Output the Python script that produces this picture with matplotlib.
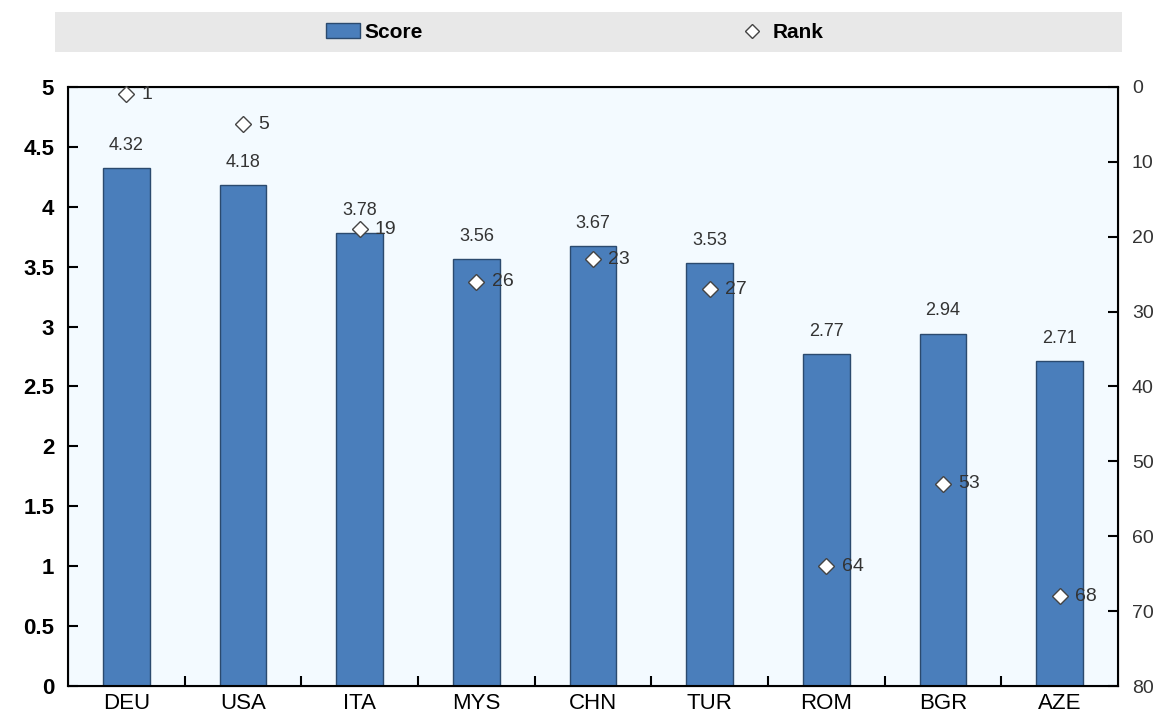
import numpy as np
import matplotlib.pyplot as plt
from matplotlib.patches import Rectangle, Patch
from matplotlib.lines import Line2D

countries = ['DEU', 'USA', 'ITA', 'MYS', 'CHN', 'TUR', 'ROM', 'BGR', 'AZE']
score = [4.32, 4.18, 3.78, 3.56, 3.67, 3.53, 2.77, 2.94, 2.71]
rank = [1, 5, 19, 26, 23, 27, 64, 53, 68]

plt.rcParams['font.family'] = ['Liberation Sans Narrow', 'Liberation Sans', 'DejaVu Sans']

fig = plt.figure(figsize=(11.59, 7.2), dpi=100)
ax1 = fig.add_axes([0.0587, 0.0472, 0.906, 0.832])
ax1.set_facecolor('#f3faff')

x = np.arange(len(countries))
ax1.bar(x, score, width=0.4, color='#4a7ebb', edgecolor='#2b4a6e', linewidth=1, zorder=2)
for xi, s in zip(x, score):
    ax1.text(xi, s + 0.12, f'{s:.2f}', ha='center', va='bottom', fontsize=13,
             color='#333333', zorder=4)

ax1.set_xlim(-0.5, len(countries) - 0.5)
ax1.set_ylim(0, 5)
ax1.set_yticks([0, 0.5, 1, 1.5, 2, 2.5, 3, 3.5, 4, 4.5, 5])
ax1.set_yticklabels(['0', '0.5', '1', '1.5', '2', '2.5', '3', '3.5', '4', '4.5', '5'],
                    fontsize=16, fontweight='bold')
ax1.set_xticks(x)
ax1.set_xticklabels(countries, fontsize=16)
ax1.tick_params(axis='x', length=0, pad=5)
ax1.set_xticks(x[:-1] + 0.5, minor=True)
ax1.tick_params(axis='x', which='minor', direction='in', length=7, width=1.5)
ax1.tick_params(axis='y', direction='in', length=7, width=1.5, pad=10)
for sp in ax1.spines.values():
    sp.set_linewidth(1.5)

ax2 = ax1.twinx()
ax2.set_ylim(80, 0)
ax2.set_yticks(np.arange(0, 81, 10))
ax2.tick_params(axis='y', direction='in', length=7, width=1.5, pad=10, labelsize=14,
                labelcolor='#333333')
ax2.plot(x, rank, linestyle='none', marker='D', markersize=8, markerfacecolor='white',
         markeredgecolor='#444444', markeredgewidth=1, zorder=5, clip_on=False)
for xi, r in zip(x, rank):
    ax2.text(xi + 0.13, r, str(r), ha='left', va='center', fontsize=14, color='#333333')

# legend band
fig.patches.append(Rectangle((0.0475, 0.928), 0.9205, 0.055, transform=fig.transFigure,
                             facecolor='#e8e8e8', edgecolor='none', zorder=0))
handles = [Patch(facecolor='#4a7ebb', edgecolor='#2b4a6e', label='Score'),
           Line2D([], [], linestyle='none', marker='D', markersize=7, markerfacecolor='white',
                  markeredgecolor='#444444', label='Rank')]
fig.legend(handles=handles, loc='center', bbox_to_anchor=(0.496, 0.955), ncol=2,
           frameon=False, columnspacing=15, handlelength=1.6,
           handletextpad=0.2, prop={'weight': 'bold', 'size': 15})

fig.savefig('out.png', dpi=100)
